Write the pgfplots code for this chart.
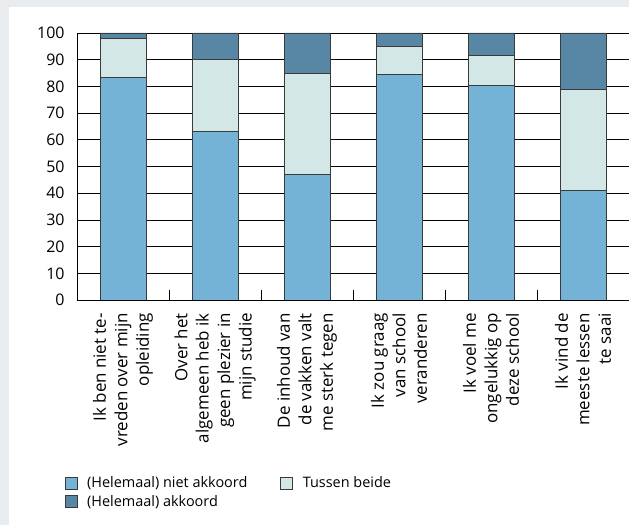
\documentclass[border=0pt]{standalone}
\usepackage{pgfplots}
\pgfplotsset{compat=1.18}
\usepackage{fontspec}
\setmainfont{Open Sans}
\definecolor{bgray}{HTML}{E8ECEF}
\definecolor{cblue}{HTML}{74B3D5}
\definecolor{clight}{HTML}{D4E7E7}
\definecolor{cdark}{HTML}{5787A5}
\definecolor{cedge}{HTML}{3A3A3A}
\begin{document}
\begin{tikzpicture}
\fill[bgray] (0,0) rectangle (629bp,525bp);
\fill[white] (9bp,0) rectangle (629bp,518bp);
\begin{axis}[
  at={(77bp,225bp)}, anchor=south west,
  scale only axis, width=552bp, height=267bp,
  ybar stacked, bar width=46bp,
  xmin=-0.5, xmax=5.5, ymin=0, ymax=100,
  axis lines=left, axis line style={-, black, line width=0.8bp},
  ytick={0,10,...,100},
  ymajorgrids, grid style={black, line width=0.7bp},
  major tick length=0pt,
  /pgf/number format/assume math mode=true,
  yticklabel style={font=\fontsize{16}{19}\selectfont, xshift=-9bp},
  xtick={0,...,5},
  xticklabels={{Ik ben niet te-\\vreden over mijn\\opleiding},
    {Over het\\algemeen heb ik\\geen plezier in\\mijn studie},
    {De inhoud van\\de vakken valt\\me sterk tegen},
    {Ik zou graag\\van school\\veranderen},
    {Ik voel me\\ongelukkig op\\deze school},
    {Ik vind de\\meeste lessen\\te saai}},
  xticklabel style={font=\fontsize{17}{21.5}\selectfont, rotate=90, anchor=east, align=right, inner sep=0pt, xshift=-13bp},
  extra x ticks={0.5,1.5,2.5,3.5,4.5,5.5},
  extra x tick labels={},
  extra x tick style={major tick length=10bp, tick align=inside, tick style={black, line width=0.8bp}},
  legend style={at={(axis description cs:-0.028,-0.647)}, anchor=north west,
    draw=none, fill=none, font=\fontsize{14.5}{18}\selectfont,
    legend cell align=left,
    /tikz/every even column/.append style={column sep=31bp},
    row sep=2bp},
  legend columns=2,
  legend image code/.code={\draw[#1] (0bp,-6bp) rectangle (12bp,6bp); \path[draw=none, fill=none] (0bp,0bp) -- (20bp,0bp);},
  every axis plot/.append style={draw=cedge, line width=0.8bp},
]
\addplot[fill=cblue, draw=cedge] coordinates {(0,83.5) (1,63) (2,47) (3,84.5) (4,80.5) (5,41)};
\addplot[fill=clight, draw=cedge] coordinates {(0,14.5) (1,27) (2,38) (3,10.5) (4,11) (5,38)};
\addplot[fill=cdark, draw=cedge] coordinates {(0,2) (1,10) (2,15) (3,5) (4,8.5) (5,21)};
\legend{(Helemaal) niet akkoord, Tussen beide, (Helemaal) akkoord}
\end{axis}
\pgfresetboundingbox
\path[use as bounding box] (0,0) rectangle (629bp,525bp);
\end{tikzpicture}
\end{document}
